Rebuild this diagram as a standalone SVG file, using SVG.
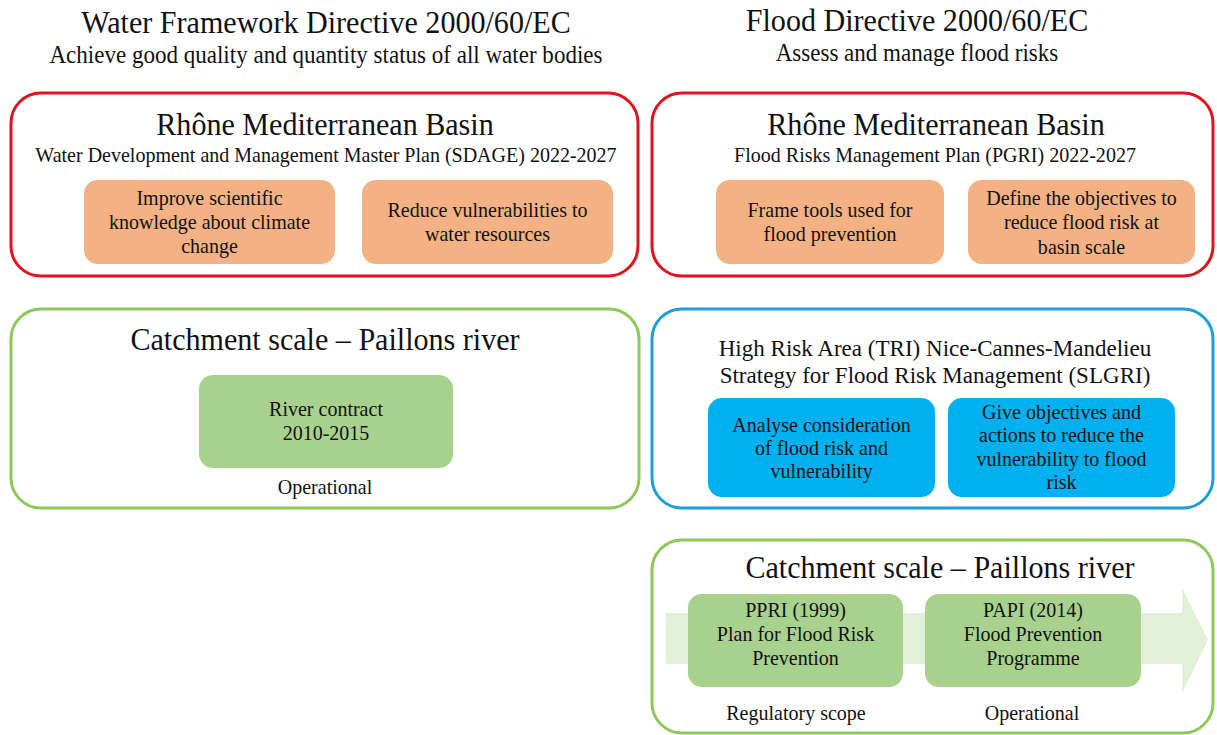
<svg xmlns="http://www.w3.org/2000/svg" width="1217" height="735" viewBox="0 0 1217 735">
<style>
text{font-family:"Liberation Serif","Times New Roman",serif;fill:#111;text-anchor:middle;transform-box:fill-box;transform-origin:center;transform:scaleX(0.94)}
.h1{font-size:32px}
.h2{font-size:24.5px}
.h2b{font-size:23.4px;transform:scaleX(0.985)}
.h3{font-size:21.3px}
.t{font-size:21.3px}
.red{fill:#fff;stroke:#e0141e;stroke-width:3}
.grn{fill:#fff;stroke:#8dc85a;stroke-width:3}
.blu{fill:#fff;stroke:#1f9fd9;stroke-width:3}
.or{fill:#f4b183}
.gn{fill:#a9d18e}
.bn{fill:#00b0f0}
</style>
<rect width="1217" height="735" fill="#fff"/>

<g id="wfd-header">
<text class="h1" x="326" y="33">Water Framework Directive 2000/60/EC</text>
<text class="h2" x="326" y="63">Achieve good quality and quantity status of all water bodies</text>
</g>
<g id="fd-header">
<text class="h1" x="917" y="31">Flood Directive 2000/60/EC</text>
<text class="h2" x="917" y="61">Assess and manage flood risks</text>
</g>

<g id="sdage">
<rect class="red" x="11" y="93" width="627" height="183" rx="30"/>
<text class="h1" x="325" y="135">Rhône Mediterranean Basin</text>
<text class="h3" x="326" y="162">Water Development and Management Master Plan (SDAGE) 2022-2027</text>
</g>
<g id="sdage-climate">
<rect class="or" x="84" y="180" width="251" height="84" rx="14"/>
<text class="t" x="209.5" y="205">Improve scientific</text>
<text class="t" x="209.5" y="229">knowledge about climate</text>
<text class="t" x="209.5" y="253">change</text>
</g>
<g id="sdage-vuln">
<rect class="or" x="362" y="180" width="251" height="84" rx="14"/>
<text class="t" x="487.5" y="217">Reduce vulnerabilities to</text>
<text class="t" x="487.5" y="241">water resources</text>
</g>

<g id="pgri">
<rect class="red" x="652" y="93" width="561" height="183" rx="30"/>
<text class="h1" x="936" y="135">Rhône Mediterranean Basin</text>
<text class="h3" x="935" y="162">Flood Risks Management Plan (PGRI) 2022-2027</text>
</g>
<g id="pgri-tools">
<rect class="or" x="716" y="180" width="228" height="84" rx="14"/>
<text class="t" x="830" y="217">Frame tools used for</text>
<text class="t" x="830" y="241">flood prevention</text>
</g>
<g id="pgri-objectives">
<rect class="or" x="968" y="180" width="227" height="84" rx="14"/>
<text class="t" x="1081.5" y="205">Define the objectives to</text>
<text class="t" x="1081.5" y="229">reduce flood risk at</text>
<text class="t" x="1081.5" y="254">basin scale</text>
</g>

<g id="catchment-wfd">
<rect class="grn" x="11" y="309" width="628" height="199" rx="30"/>
<text class="h1" x="325" y="350">Catchment scale – Paillons river</text>
<text class="t" x="325" y="494">Operational</text>
</g>
<g id="river-contract">
<rect class="gn" x="199" y="375" width="254" height="93" rx="14"/>
<text class="t" x="326" y="416">River contract</text>
<text class="t" x="326" y="440">2010-2015</text>
</g>

<g id="slgri">
<rect class="blu" x="652" y="309" width="561" height="199" rx="30"/>
<text class="h2b" x="935" y="356">High Risk Area (TRI) Nice-Cannes-Mandelieu</text>
<text class="h2b" x="935" y="383">Strategy for Flood Risk Management (SLGRI)</text>
</g>
<g id="slgri-analyse">
<rect class="bn" x="708" y="398" width="227" height="99" rx="14"/>
<text class="t" x="821.5" y="432">Analyse consideration</text>
<text class="t" x="821.5" y="455">of flood risk and</text>
<text class="t" x="821.5" y="478">vulnerability</text>
</g>
<g id="slgri-objectives">
<rect class="bn" x="948" y="398" width="227" height="99" rx="14"/>
<text class="t" x="1061.5" y="419">Give objectives and</text>
<text class="t" x="1061.5" y="442">actions to reduce the</text>
<text class="t" x="1061.5" y="466">vulnerability to flood</text>
<text class="t" x="1061.5" y="489">risk</text>
</g>

<g id="catchment-fd">
<rect class="grn" x="652" y="540" width="561" height="193" rx="30"/>
<text class="h1" x="940" y="578">Catchment scale – Paillons river</text>
<text class="t" x="796" y="720">Regulatory scope</text>
<text class="t" x="1032" y="720">Operational</text>
</g>

<g id="connectors">
<polygon id="timeline-arrow" points="666,613 1182,613 1182,588 1208,640 1182,693 1182,664 666,664" fill="#e2f0d9"/>
</g>

<g id="ppri">
<rect class="gn" x="688" y="594" width="215" height="93" rx="14"/>
<text class="t" x="795.5" y="617">PPRI (1999)</text>
<text class="t" x="795.5" y="641">Plan for Flood Risk</text>
<text class="t" x="795.5" y="665">Prevention</text>
</g>
<g id="papi">
<rect class="gn" x="925" y="594" width="216" height="93" rx="14"/>
<text class="t" x="1033" y="617">PAPI (2014)</text>
<text class="t" x="1033" y="641">Flood Prevention</text>
<text class="t" x="1033" y="665">Programme</text>
</g>
</svg>
